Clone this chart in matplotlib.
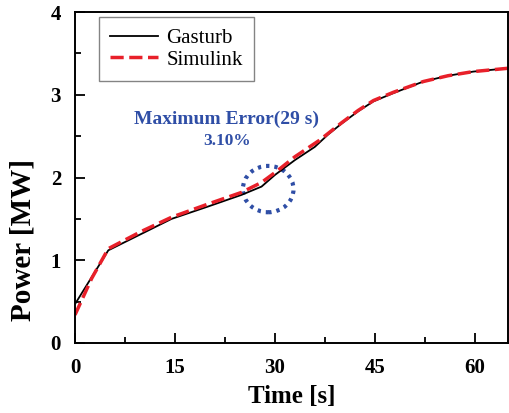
import numpy as np
import matplotlib
matplotlib.use("Agg")
import matplotlib.pyplot as plt
from matplotlib.patches import Ellipse
from matplotlib.ticker import MultipleLocator

plt.rcParams['font.family'] = ['Liberation Serif', 'DejaVu Serif']

# Gasturb (black solid)
t_gas = [0, 5, 10, 14.5, 20, 25, 28, 30, 33, 36, 38, 40, 42.5, 44.8, 47.8, 52.3, 56, 59.8, 65]
p_gas = [0.47, 1.12, 1.32, 1.50, 1.65, 1.79, 1.89, 2.03, 2.21, 2.37, 2.52, 2.65, 2.80, 2.92, 3.02, 3.16, 3.23, 3.28, 3.32]

# Simulink (red dashed)
t_sim = [0, 2.5, 5, 10, 14.5, 20, 25, 28, 30.2, 33, 36.7, 40, 42.5, 44.8, 47.8, 52.3, 56, 59.8, 65]
p_sim = [0.34, 0.78, 1.14, 1.35, 1.52, 1.68, 1.82, 1.94, 2.07, 2.25, 2.45, 2.66, 2.81, 2.93, 3.03, 3.16, 3.23, 3.28, 3.32]

err_time = 29
err_power = 1.86
err_label = "Maximum Error(29 s)"
err_value = "3.10%"

fig = plt.figure(figsize=(5.1, 4.13), dpi=100)
ax = fig.add_axes([75/510, 70/413, 433/510, 331/413])

ax.plot(t_gas, p_gas, color='black', lw=1.3, label='Gasturb')
ax.plot(t_sim, p_sim, color='#e8202a', lw=2.5, ls=(0, (3.8, 1.6)), label='Simulink')

blue = '#2f4ea6'
ax.add_patch(Ellipse((err_time, err_power), 7.6, 0.56, fill=False, ec=blue,
                     lw=3.0, ls=(0, (0.8, 1.2))))
ax.text(22.8, 2.7, err_label, color=blue, fontsize=14, fontweight='bold',
        ha='center', va='center')
ax.text(22.8, 2.44, err_value, color=blue, fontsize=12.4, fontweight='bold',
        ha='center', va='center')

ax.set_xlim(0, 65)
ax.set_ylim(0, 4)
ax.xaxis.set_major_locator(MultipleLocator(15))
ax.xaxis.set_minor_locator(MultipleLocator(7.5))
ax.yaxis.set_major_locator(MultipleLocator(1))
ax.yaxis.set_minor_locator(MultipleLocator(0.5))
ax.tick_params(which='both', direction='in', top=False, right=False, width=1.3)
ax.tick_params(which='major', length=7, labelsize=15)
ax.tick_params(which='minor', length=4)
ax.tick_params(axis='x', which='major', pad=11)
ax.tick_params(axis='y', which='major', pad=10)
for lbl in ax.get_xticklabels() + ax.get_yticklabels():
    lbl.set_fontweight('bold')
for s in ax.spines.values():
    s.set_linewidth(1.4)

ax.set_xlabel('Time [s]', fontsize=18, fontweight='bold', labelpad=5)
ax.set_ylabel('Power [MW]', fontsize=21, fontweight='bold')
ax.yaxis.set_label_coords(-0.088, 0.31)

leg = ax.legend(loc='upper left', bbox_to_anchor=(0.055, 0.985), borderaxespad=0,
                fontsize=15, fancybox=False, edgecolor='#666666', handlelength=2.3,
                handletextpad=0.4, borderpad=0.55, labelspacing=0.1)
leg.get_frame().set_linewidth(1.0)

fig.savefig('out.png', dpi=100)
